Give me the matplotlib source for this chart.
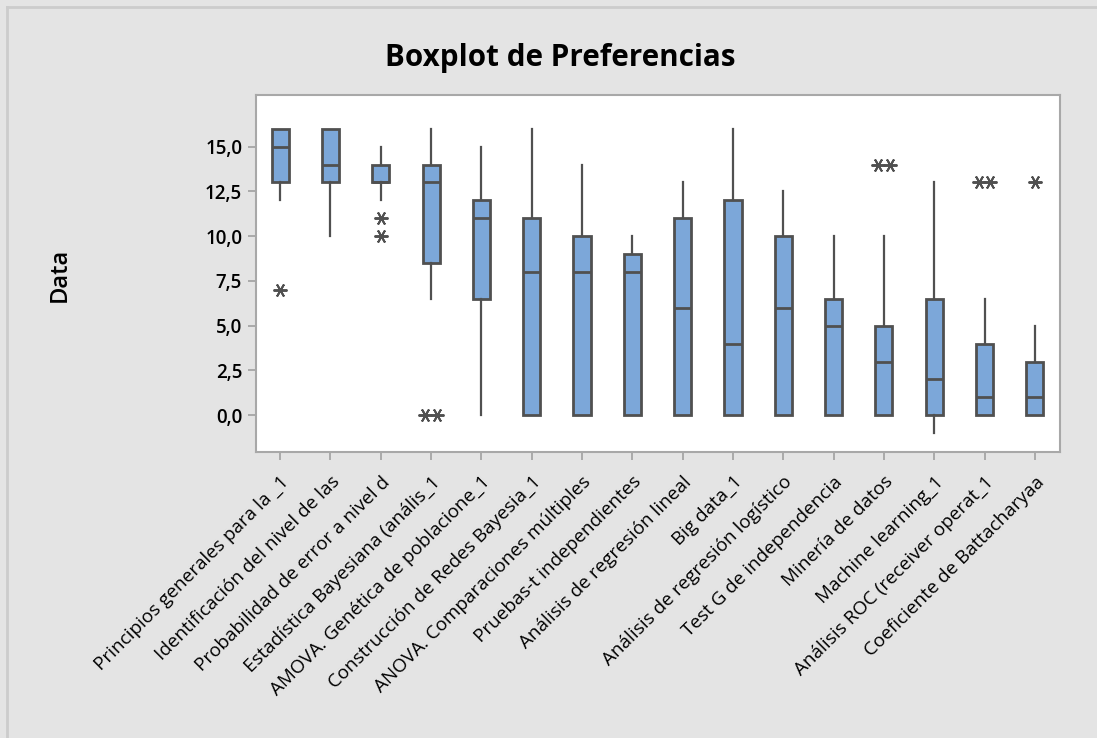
import matplotlib
matplotlib.use('Agg')
import matplotlib.pyplot as plt
from matplotlib.lines import Line2D

plt.rcParams['font.family'] = ['Open Sans', 'DejaVu Sans']

# categorías y estadísticos de cada caja (Q1, mediana, Q3, bigotes, atípicos)
etiquetas = ['Principios generales para la _1', 'Identificación del nivel de las',
             'Probabilidad de error a nivel d', 'Estadística Bayesiana (anális_1',
             'AMOVA. Genética de poblacione_1', 'Construcción de Redes Bayesia_1',
             'ANOVA. Comparaciones múltiples', 'Pruebas-t independientes',
             'Análisis de regresión lineal', 'Big data_1',
             'Análisis de regresión logístico', 'Test G de independencia',
             'Minería de datos', 'Machine learning_1',
             'Análisis ROC (receiver operat_1', 'Coeficiente de Battacharyaa']
q1 = [13, 13, 13, 8.5, 6.5, 0, 0, 0, 0, 0, 0, 0, 0, 0, 0, 0]
mediana = [15, 14, 13, 13, 11, 8, 8, 8, 6, 4, 6, 5, 3, 2, 1, 1]
q3 = [16, 16, 14, 14, 12, 11, 10, 9, 11, 12, 10, 6.5, 5, 6.5, 4, 3]
bigote_inf = [12, 10, 12, 6.5, 0, 0, 0, 0, 0, 0, 0, 0, 0, -1, 0, 0]
bigote_sup = [16, 16, 15, 16, 15, 16, 14, 10, 13, 16, 12.5, 10, 10, 13, 6.5, 5]
atipicos = [[7], [], [11, 10], [0, 0], [], [], [], [], [], [], [], [], [14, 14], [], [13, 13], [13]]

fig = plt.figure(figsize=(10.97, 7.38), dpi=100)
fig.patch.set_facecolor('#e4e4e4')
ax = fig.add_axes([256/1097, 1-452/738, (1060-256)/1097, (452-95)/738])
ax.set_facecolor('white')

stats = []
for i in range(len(etiquetas)):
    stats.append({'q1': q1[i], 'med': mediana[i], 'q3': q3[i],
                  'whislo': bigote_inf[i], 'whishi': bigote_sup[i],
                  'fliers': [], 'label': etiquetas[i]})

borde = '#505050'
ax.bxp(stats, positions=range(1, 17), widths=0.34, patch_artist=True,
       showcaps=False, showfliers=False,
       boxprops=dict(facecolor='#7ca7d9', edgecolor=borde, linewidth=2),
       medianprops=dict(color=borde, linewidth=2),
       whiskerprops=dict(color=borde, linewidth=1.6))

# atípicos con asterisco, los repetidos se separan a los lados
for i, vals in enumerate(atipicos):
    vistos = {}
    for v in vals:
        vistos[v] = vistos.get(v, 0) + 1
    for v, n in vistos.items():
        for k in range(n):
            dx = (k - (n - 1) / 2) * 0.23
            ax.plot(i + 1 + dx, v, marker=(6, 2, 90), markersize=10,
                    color='#505050', markeredgewidth=1.4, linestyle='none')

ax.set_xlim(0.52, 16.5)
ax.set_ylim(-2.05, 17.88)
ticks_y = [0, 2.5, 5, 7.5, 10, 12.5, 15]
ax.set_yticks(ticks_y)
ax.set_yticklabels([('%.1f' % t).replace('.', ',') for t in ticks_y],
                   fontsize=13.5, fontweight='semibold')
ax.set_xticks(range(1, 17))
ax.set_xticklabels(etiquetas, rotation=45, ha='right', va='top',
                   rotation_mode='anchor', fontsize=13.6)
ax.tick_params(axis='both', length=6, width=1.2, color='#a0a0a0', pad=4)
ax.tick_params(axis='x', pad=9)
for s in ax.spines.values():
    s.set_color('#a8a8a8')
    s.set_linewidth(1.5)

fig.text(560/1097, 1-58/738, 'Boxplot de Preferencias', fontsize=21.3,
         fontweight='bold', ha='center', va='center')
fig.text(60/1097, 1-275/738, 'Data', fontsize=17, fontweight='semibold',
         rotation=90, ha='center', va='center')

# marco exterior (solo izquierda y arriba)
fig.add_artist(Line2D([7/1097, 7/1097], [0, 1-7/738], color='#cccccc', linewidth=2))
fig.add_artist(Line2D([7/1097, 1], [1-7/738, 1-7/738], color='#cccccc', linewidth=2))

fig.savefig('out.png', dpi=100, facecolor=fig.get_facecolor())
